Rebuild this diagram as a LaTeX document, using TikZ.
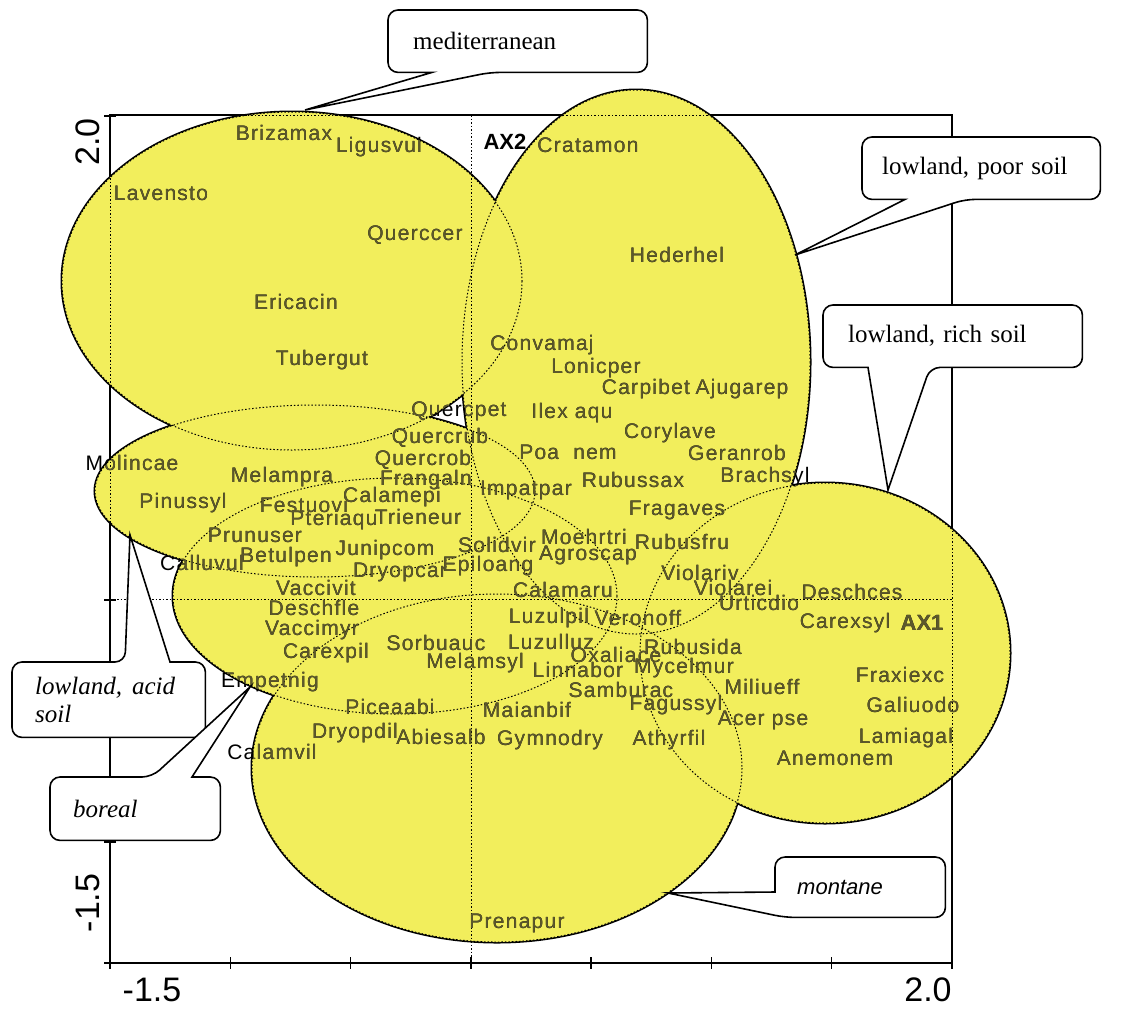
\documentclass[tikz,border=0pt]{standalone}
\usepackage{fontspec}
\setmainfont{Liberation Serif}
\newfontfamily\specfont[LetterSpace=6]{Liberation Sans}
\newfontfamily\axisfont{Liberation Sans}
\usetikzlibrary{calc}

\definecolor{regionyellow}{RGB}{242,238,92}
\definecolor{fadedtext}{RGB}{92,88,44}

\pgfdeclarelayer{notebg}
\pgfdeclarelayer{notefg}
\pgfsetlayers{main,notebg,notefg}

\tikzset{
  spec/.style={font=\specfont\fontsize{21}{23}\selectfont, inner sep=0pt, text=black},
  axname/.style={font=\axisfont\bfseries\fontsize{22}{24}\selectfont, inner sep=0pt, text=black},
  ticklabel/.style={font=\axisfont\fontsize{34}{36}\selectfont, inner sep=0pt},
  plotframe/.style={line width=1.4pt},
  hidden/.style={line width=1pt, dash pattern=on 1.5pt off 2pt},
  note/.style={anchor=north west, inner ysep=0pt, align=left, font=\fontsize{25}{28}\selectfont},
  notebox/.style={draw=black, fill=white, line width=1.6pt, rounded corners=10pt},
}

% species scores
\newcommand\speclabels{%
  \node[spec] (brizamax) at (284,133) {Brizamax};
  \node[spec] (ligusvul) at (379,147) {Ligusvul};
  \node[spec] (lavensto) at (161,193) {Lavensto};
  \node[spec] (querccer) at (415,235) {Querccer};
  \node[spec] (ericacin) at (296,302) {Ericacin};
  \node[spec] (tubergut) at (322,360) {Tubergut};
  \node[axname] (axtwo) at (505,142) {AX2};
  \node[spec] (cratamon) at (588,145) {Cratamon};
  \node[spec] (hederhel) at (677,255) {Hederhel};
  \node[spec] (convamaj) at (542,345) {Convamaj};
  \node[spec] (lonicper) at (596,368) {Lonicper};
  \node[spec] (carpibet) at (646,389) {Carpibet};
  \node[spec] (ajugarep) at (742,389) {Ajugarep};
  \node[spec] (quercpet) at (459,411) {Quercpet};
  \node[spec] (ilexaqu) at (572,413) {Ilex aqu};
  \node[spec] (corylave) at (670,433) {Corylave};
  \node[spec] (quercrub) at (440,438) {Quercrub};
  \node[spec] (poanem) at (568,452) {Poa\ \ nem};
  \node[spec] (geranrob) at (737,453) {Geranrob};
  \node[spec] (quercrob) at (423,460) {Quercrob};
  \node[spec] (molincae) at (132,463) {Molincae};
  \node[spec] (melampra) at (282,477) {Melampra};
  \node[spec] (frangaln) at (426,480) {Frangaln};
  \node[spec] (rubussax) at (633,480) {Rubussax};
  \node[spec] (brachsyl) at (765,477) {Brachsyl};
  \node[spec] (impatpar) at (526,490) {Impatpar};
  \node[spec] (calamepi) at (392,497) {Calamepi};
  \node[spec] (pinussyl) at (183,503) {Pinussyl};
  \node[spec] (festuovi) at (304,505) {Festuovi};
  \node[spec] (fragaves) at (677,510) {Fragaves};
  \node[spec] (trieneur) at (418,517) {Trieneur};
  \node[spec] (pteriaqu) at (334,520) {Pteriaqu};
  \node[spec] (prunuser) at (255,535) {Prunuser};
  \node[spec] (moehrtri) at (584,537) {Moehrtri};
  \node[spec] (rubusfru) at (682,542) {Rubusfru};
  \node[spec] (solidvir) at (497,545) {Solidvir};
  \node[spec] (junipcom) at (385,550) {Junipcom};
  \node[spec] (agroscap) at (588,555) {Agroscap};
  \node[spec] (betulpen) at (286,557) {Betulpen};
  \node[spec] (calluvul) at (202,563) {Calluvul};
  \node[spec] (epiloang) at (488,566) {Epiloang};
  \node[spec] (dryopcar) at (400,572) {Dryopcar};
  \node[spec] (violariv) at (700,573) {Violariv};
  \node[spec] (vaccivit) at (316,588) {Vaccivit};
  \node[spec] (violarei) at (733,588) {Violarei};
  \node[spec] (calamaru) at (563,590) {Calamaru};
  \node[spec] (deschces) at (852,592) {Deschces};
  \node[spec] (urticdio) at (759,603) {Urticdio};
  \node[spec] (deschfle) at (314,608) {Deschfle};
  \node[spec] (luzulpil) at (549,618) {Luzulpil};
  \node[spec] (veronoff) at (638,618) {Veronoff};
  \node[spec] (carexsyl) at (845,623) {Carexsyl};
  \node[axname] (axone) at (922,623) {AX1};
  \node[spec] (vaccimyr) at (312,630) {Vaccimyr};
  \node[spec] (luzulluz) at (551,642) {Luzulluz};
  \node[spec] (sorbuauc) at (436,643) {Sorbuauc};
  \node[spec] (rubusida) at (693,647) {Rubusida};
  \node[spec] (carexpil) at (326,653) {Carexpil};
  \node[spec] (oxaliace) at (616,655) {Oxaliace};
  \node[spec] (melamsyl) at (475,663) {Melamsyl};
  \node[spec] (mycelmur) at (684,668) {Mycelmur};
  \node[spec] (linnabor) at (578,670) {Linnabor};
  \node[spec] (fraxiexc) at (900,675) {Fraxiexc};
  \node[spec] (empetnig) at (270,682) {Empetnig};
  \node[spec] (miliueff) at (762,687) {Miliueff};
  \node[spec] (samburac) at (621,690) {Samburac};
  \node[spec] (fagussyl) at (676,705) {Fagussyl};
  \node[spec] (galiuodo) at (913,705) {Galiuodo};
  \node[spec] (piceaabi) at (390,707) {Piceaabi};
  \node[spec] (maianbif) at (527,710) {Maianbif};
  \node[spec] (acerpse) at (763,720) {Acer pse};
  \node[spec] (dryopdil) at (355,733) {Dryopdil};
  \node[spec] (abiesalb) at (441,737) {Abiesalb};
  \node[spec] (lamiagal) at (906,738) {Lamiagal};
  \node[spec] (gymnodry) at (550,740) {Gymnodry};
  \node[spec] (athyrfil) at (669,740) {Athyrfil};
  \node[spec] (calamvil) at (272,752) {Calamvil};
  \node[spec] (anemonem) at (835,758) {Anemonem};
  \node[spec] (prenapur) at (517,923) {Prenapur};
}

\begin{document}
\begin{tikzpicture}[x=1pt, y=-1pt]
  \useasboundingbox (0,0) rectangle (1123,1012);
  % mediterranean, poor soil, rich soil, acid soil, boreal, montane
  \def\regionpath{(292,281) ellipse [x radius=230, y radius=169]
    (636,362) ellipse [x radius=174, y radius=272]
    (825,653) ellipse [x radius=185, y radius=170]
    (315,491) ellipse [x radius=220, y radius=86]
    (395,596) ellipse [x radius=222, y radius=118]
    (497,768) ellipse [x radius=245, y radius=174]}
  % Frame and ticks
  \draw[plotframe] (110,115) rectangle (952,963);
  \foreach \k in {0,...,7} {
    \draw[plotframe] ({110+120.29*\k},957) -- ({110+120.29*\k},969);
    \draw[plotframe] (104,{963-121*\k}) -- (116,{963-121*\k});
  }
  % Regions: outline, refill, covered parts dotted
  \draw[line width=3pt] \regionpath;
  \fill[regionyellow] \regionpath;
  \draw[hidden] \regionpath;
  \draw[hidden] (110,115) rectangle (952,963);
  \draw[hidden] (471,115) -- (471,963);
  \draw[hidden] (110,599) -- (952,599);
  % Species, faded where a region lies over them
  \speclabels
  \begin{scope}
    \clip \regionpath;
    \tikzset{spec/.append style={text=fadedtext}, axname/.append style={text=fadedtext}}
    \speclabels
  \end{scope}
  % Axis values
  \node[ticklabel] (xlow) at (152,990) {-1.5};
  \node[ticklabel] (xhigh) at (928,990) {2.0};
  \node[ticklabel, rotate=90] (yhigh) at (88,142) {2.0};
  \node[ticklabel, rotate=90] (ylow) at (88,903) {-1.5};
  % Callouts
  \coordinate (medtip) at (305,110);
  \coordinate (poortip) at (795,255);
  \coordinate (richtip) at (888,490);
  \coordinate (acidtip) at (130,535);
  \coordinate (borealtip) at (250,687);
  \coordinate (monttip) at (668,893);
  \begin{pgfonlayer}{notefg}
    \node[note, inner xsep=25pt, text width=209pt, minimum height=62pt] (mednote) at (388,10) {mediterranean};
    \node[note, inner xsep=20pt, text width=198pt, minimum height=62pt] (poornote) at (862,137) {lowland, poor soil};
    \node[note, inner xsep=25pt, text width=209pt, minimum height=62pt] (richnote) at (823,305) {lowland, rich soil};
    \node[note, inner xsep=23pt, text width=147pt, minimum height=75pt, font=\itshape\fontsize{25}{28}\selectfont] (acidnote) at (12,662) {lowland,\hspace{10pt}acid\\soil};
    \node[note, inner xsep=23pt, text width=124pt, minimum height=63pt, font=\itshape\fontsize{25}{28}\selectfont] (borealnote) at (50,777) {boreal};
    \node[note, inner xsep=22pt, text width=126pt, minimum height=60pt, font=\axisfont\itshape\fontsize{22}{24}\selectfont] (montnote) at (775,857) {montane};
  \end{pgfonlayer}
  \begin{pgfonlayer}{notebg}
    \draw[notebox] (mednote.north) -- (mednote.north east) -- (mednote.south east)
      -- ($(mednote.south west)+(102,0)$) [sharp corners] -- (medtip) -- ($(mednote.south west)+(44,0)$)
      [rounded corners=10pt] -- (mednote.south west) -- (mednote.north west) -- cycle;
    \draw[notebox] (poornote.north) -- (poornote.north east) -- (poornote.south east)
      -- ($(poornote.south west)+(103,0)$) [sharp corners] -- (poortip) -- ($(poornote.south west)+(43,0)$)
      [rounded corners=10pt] -- (poornote.south west) -- (poornote.north west) -- cycle;
    \draw[notebox] (richnote.north) -- (richnote.north east) -- (richnote.south east)
      -- ($(richnote.south west)+(107,0)$) [sharp corners] -- (richtip) -- ($(richnote.south west)+(45,0)$)
      [rounded corners=10pt] -- (richnote.south west) -- (richnote.north west) -- cycle;
    \draw[notebox] (acidnote.south) -- (acidnote.south west) -- (acidnote.north west)
      -- ($(acidnote.north west)+(113,0)$) [sharp corners] -- (acidtip) -- ($(acidnote.north west)+(158,0)$)
      [rounded corners=10pt] -- (acidnote.north east) -- (acidnote.south east) -- cycle;
    \draw[notebox] (borealnote.south) -- (borealnote.south west) -- (borealnote.north west)
      -- ($(borealnote.north west)+(102,0)$) [sharp corners] -- (borealtip) -- ($(borealnote.north west)+(142,0)$)
      [rounded corners=10pt] -- (borealnote.north east) -- (borealnote.south east) -- cycle;
    \draw[notebox] (montnote.north) -- (montnote.north east) -- (montnote.south east)
      -- ($(montnote.south west)+(10,0)$) [sharp corners] -- (monttip) -- ($(montnote.north west)+(0,35)$)
      [rounded corners=10pt] -- (montnote.north west) -- cycle;
  \end{pgfonlayer}
\end{tikzpicture}
\end{document}
